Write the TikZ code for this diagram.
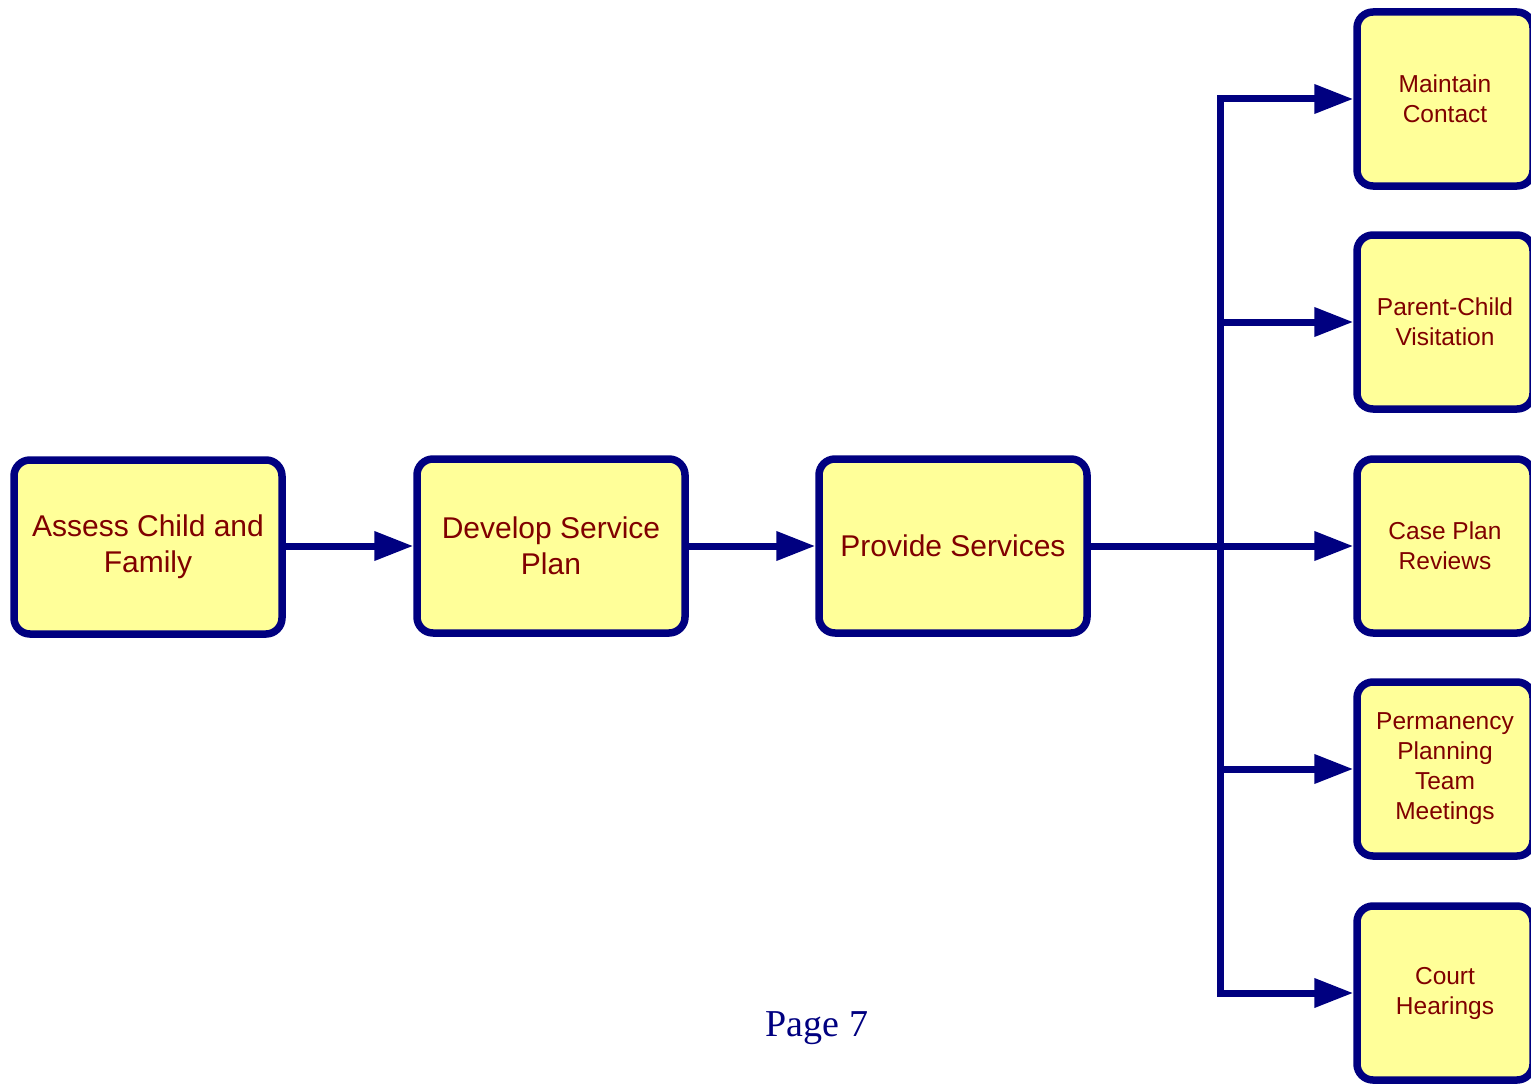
\documentclass[tikz,border=0pt]{standalone}
\usepackage{fontspec}
\setmainfont{Liberation Sans}
\newfontfamily\pagefont{Liberation Serif}
\usetikzlibrary{positioning}
\usetikzlibrary{arrows.meta}

\definecolor{boxfill}{RGB}{255,255,153}
\definecolor{boxline}{RGB}{0,0,128}
\definecolor{boxtext}{RGB}{128,0,0}

\begin{document}
\begin{tikzpicture}[x=1pt, y=-1pt,
	stage/.style={draw=boxline, fill=boxfill, line width=7.5pt, rounded corners=16pt, text=boxtext, align=center, minimum width=268pt, minimum height=174pt, font=\fontsize{30}{36}\selectfont},
	task/.style={stage, minimum width=176pt, font=\fontsize{24.5}{30}\selectfont},
	flow/.style={draw=boxline, line width=7pt, -{Triangle[length=39pt, width=28pt]}}]
	\useasboundingbox (0, 0) rectangle (1531, 1089);

	\node[stage] (assess) at (148, 547) {Assess Child and\\Family};
	\node[stage] (plan) at (551, 546) {Develop Service\\Plan};
	\node[stage] (provide) at (953, 546) {Provide Services};

	\node[task] (contact) at (1445, 99) {Maintain\\Contact};
	\node[task] (visit) at (1445, 322) {Parent-Child\\Visitation};
	\node[task] (review) at (1445, 546) {Case Plan\\Reviews};
	\node[task] (team) at (1445, 769) {Permanency\\Planning\\Team\\Meetings};
	\node[task] (court) at (1445, 993) {Court\\Hearings};

	\coordinate (bus) at (1220, 546);

	\draw[flow] (assess.east |- plan) -- (plan);
	\draw[flow] (plan) -- (provide);
	\draw[flow] (provide) -- (review);
	\draw[flow] (bus |- court.west) -- (bus |- contact.west) -- (contact.west);
	\draw[flow] (bus |- visit.west) -- (visit.west);
	\draw[flow] (bus |- team.west) -- (team.west);
	\draw[flow] (bus |- contact.west) |- (court.west);

	\node[text=boxline, font=\pagefont\fontsize{38}{44}\selectfont] (page) at (817, 1028) {Page 7};
\end{tikzpicture}
\end{document}
